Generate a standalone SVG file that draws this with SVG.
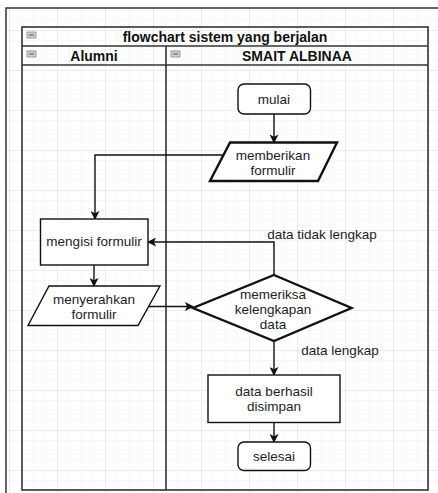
<svg xmlns="http://www.w3.org/2000/svg" width="438" height="493" viewBox="0 0 438 493">
  <defs>
    <pattern id="minor" x="9" y="0" width="12" height="10" patternUnits="userSpaceOnUse">
      <path d="M0 0 V10 M0 0 H12" fill="none" stroke="#f0f0f0" stroke-width="1"/>
    </pattern>
    <pattern id="major" x="9" y="30" width="48" height="40" patternUnits="userSpaceOnUse">
      <path d="M0 0 V40 M0 0 H48" fill="none" stroke="#e2e2e2" stroke-width="1"/>
    </pattern>
    <marker id="arrow" viewBox="0 0 10 10" refX="9" refY="5" markerWidth="9" markerHeight="9" markerUnits="userSpaceOnUse" orient="auto">
      <path d="M0 0 L10 5 L0 10 L2.5 5 Z" fill="#111"/>
    </marker>
    <g id="collapse">
      <rect x="0" y="0" width="9" height="6" fill="#d0d0d0" stroke="#8a8a8a" stroke-width="0.8"/>
      <line x1="2" y1="3" x2="7" y2="3" stroke="#555" stroke-width="1"/>
    </g>
  </defs>
  <style>
    .frame { fill: none; stroke: #333; stroke-width: 1.5; }
    .pool { fill: none; stroke: #333; stroke-width: 1.6; }
    .node { fill: #fff; stroke: #111; stroke-width: 1.4; }
    .bold { fill: #fff; stroke: #111; stroke-width: 2.4; }
    .edge { fill: none; stroke: #111; stroke-width: 1.4; marker-end: url(#arrow); }
    .hdr { font-family: "Liberation Sans", Arial, sans-serif; font-size: 14px; font-weight: bold; fill: #111; text-anchor: middle; }
    .lbl { font-family: "Liberation Sans", Arial, sans-serif; font-size: 13.5px; fill: #1c1c2a; text-anchor: middle; }
  </style>

  <!-- page background and grid -->
  <rect x="0" y="0" width="438" height="493" fill="#fff"/>
  <rect x="6" y="8" width="432" height="485" fill="url(#minor)"/>
  <rect x="6" y="8" width="432" height="485" fill="url(#major)"/>
  <path class="frame" d="M6 493 V8 H438"/>

  <!-- swimlane pool -->
  <g id="pool">
    <rect class="pool" x="22" y="27" width="406" height="463"/>
    <line class="pool" x1="22" y1="46" x2="428" y2="46"/>
    <line class="pool" x1="22" y1="65" x2="428" y2="65"/>
    <line class="pool" x1="166" y1="46" x2="166" y2="490"/>
    <use href="#collapse" x="27" y="32"/>
    <text class="hdr" x="225" y="41.5">flowchart sistem yang berjalan</text>
  </g>
  <g id="lane-alumni">
    <use href="#collapse" x="27" y="51"/>
    <text class="hdr" x="94" y="60.5">Alumni</text>
  </g>
  <g id="lane-smait">
    <use href="#collapse" x="171" y="51"/>
    <text class="hdr" x="297" y="60.5">SMAIT ALBINAA</text>
  </g>

  <!-- connectors -->
  <g id="edges">
    <path class="edge" d="M274 114 V142.5"/>
    <path class="edge" d="M223 155 H95 V219"/>
    <path class="edge" d="M94 265 V286"/>
    <path class="edge" d="M149 306.5 H193"/>
    <path class="edge" d="M274 275 V242 H148"/>
    <path class="edge" d="M274 341 V375"/>
    <path class="edge" d="M274 423 V442"/>
    <text class="lbl" x="322" y="238.5">data tidak lengkap</text>
    <text class="lbl" x="340" y="355">data lengkap</text>
  </g>

  <!-- nodes -->
  <g id="mulai">
    <rect class="node" x="238" y="84" width="72.5" height="30" rx="6"/>
    <text class="lbl" x="274" y="104">mulai</text>
  </g>
  <g id="memberikan-formulir">
    <path class="bold" d="M230 142.5 H337 L318 181 H210 Z"/>
    <text class="lbl" x="273" y="159.5">memberikan</text>
    <text class="lbl" x="273" y="174.5">formulir</text>
  </g>
  <g id="mengisi-formulir">
    <rect class="node" x="40.5" y="219" width="107.5" height="46"/>
    <text class="lbl" x="94" y="246">mengisi formulir</text>
  </g>
  <g id="menyerahkan-formulir">
    <path class="node" d="M49 286 H160 L138 325.5 H28 Z"/>
    <text class="lbl" x="94" y="303.5">menyerahkan</text>
    <text class="lbl" x="94" y="318.5">formulir</text>
  </g>
  <g id="memeriksa">
    <path class="bold" d="M274 275 L351.5 308 L274 341 L193 308 Z"/>
    <text class="lbl" x="273" y="298.5">memeriksa</text>
    <text class="lbl" x="273" y="313.5">kelengkapan</text>
    <text class="lbl" x="273" y="328.5">data</text>
  </g>
  <g id="data-berhasil-disimpan">
    <rect class="node" x="208" y="375" width="132" height="47.5"/>
    <text class="lbl" x="274" y="395.5">data berhasil</text>
    <text class="lbl" x="274" y="410.5">disimpan</text>
  </g>
  <g id="selesai">
    <rect class="node" x="238" y="442" width="72.5" height="28.5" rx="6"/>
    <text class="lbl" x="274" y="461">selesai</text>
  </g>
</svg>
